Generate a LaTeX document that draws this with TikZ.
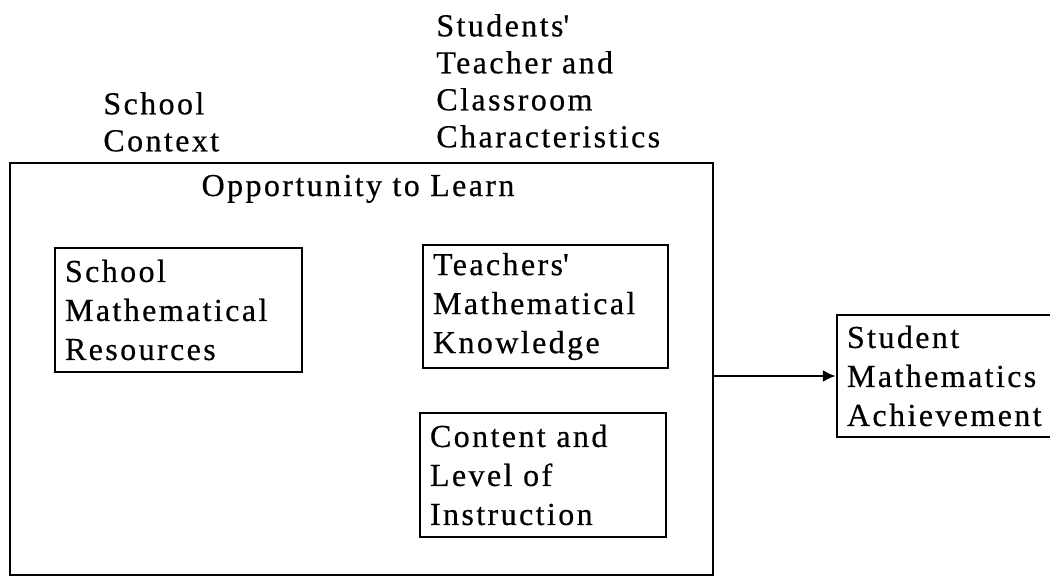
\documentclass[tikz,border=0pt]{standalone}
\usepackage{fontspec}
\setmainfont{Liberation Serif}[LetterSpace=7.5, FakeBold=0.5]
\usetikzlibrary{arrows.meta}

\tikzset{
  factor/.style={draw, line width=1.2pt, align=left, inner xsep=5pt, inner ysep=0pt,
    font=\fontsize{16}{19.5}\selectfont},
  heading/.style={align=left, inner sep=0pt, font=\fontsize{16}{18.5}\selectfont}
}

\begin{document}
\begin{tikzpicture}[x=0.5pt,y=-0.5pt]
\useasboundingbox (0,0) rectangle (1050,584);

% outer frame and its title
\node[draw, line width=1.4pt, minimum width=351.5pt, minimum height=206pt, inner sep=0pt] (otl) at (361.5,369) {};
\node[heading, anchor=base] (otltitle) at (358,196) {Opportunity to Learn};

% labels over the frame
\node[heading, anchor=south west] (context) at (103,152) {School\\Context};
\node[heading, anchor=south west] (classchar) at (436,148) {Students\textquotesingle\\Teacher and\\Classroom\\Characteristics};

% boxes inside the frame
\node[factor, text width=113.5pt, minimum height=62pt] (resources) at (178.5,310) {School\\Mathematical\\Resources};
\node[factor, text width=112.5pt, minimum height=61.5pt] (knowledge) at (545.5,306.5) {Teachers\textquotesingle\\Mathematical\\Knowledge};
\node[factor, text width=113pt, minimum height=62pt] (instruction) at (543,475) {Content and\\Level of\\Instruction};

% outcome, runs off the right margin
\node[factor, text width=108.5pt, minimum height=61pt] (achievement) at (955.5,376) {Student\\Mathematics\\Achievement};

\draw[line width=1.2pt, -{Latex[length=6.5pt,width=6pt]}] (otl.east |- achievement.west) -- (achievement.west);

\end{tikzpicture}
\end{document}
